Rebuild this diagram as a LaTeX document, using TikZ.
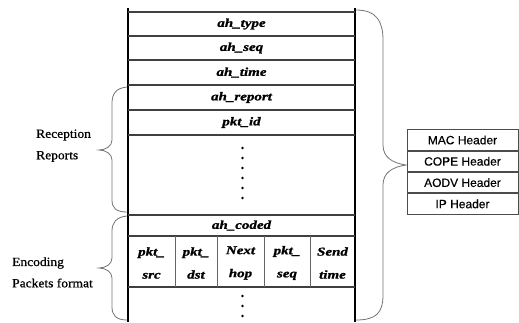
\documentclass[tikz,border=0pt]{standalone}
\usepackage{fontspec}
\setmainfont{Liberation Serif}
\newfontfamily\cellfont[FakeStretch=1.25,FakeBold=1.2]{Liberation Serif}
\newfontfamily\lblfont[FakeStretch=1.08,FakeBold=0.8]{Liberation Serif}
\newfontfamily\hdrfont[FakeBold=0.4]{Liberation Sans}
\begin{document}
\begin{tikzpicture}[x=1pt,y=-1pt,
  cell/.style={inner sep=0pt,font=\cellfont\fontsize{12}{14}\selectfont\bfseries\itshape},
  subcell/.style={inner sep=0pt,align=center,font=\cellfont\fontsize{12}{23}\selectfont\bfseries\itshape},
  lbl/.style={inner sep=0pt,anchor=west,font=\lblfont\fontsize{12.5}{14}\selectfont},
  hdr/.style={draw=black!70,line width=0.8pt,minimum width=111pt,minimum height=20.5pt,inner sep=0pt,font=\hdrfont\fontsize{12}{14}\selectfont},
  hl/.style={draw=black!75,line width=1.1pt},
  vl/.style={draw=black,line width=1.4pt},
  sl/.style={draw=black!60,line width=1pt},
  brace/.style={draw=black!55,line width=0.8pt},
  dotm/.style={circle,fill=black,inner sep=0pt,minimum size=2.6pt}]
\useasboundingbox (0,0) rectangle (519,322);
% table frame
\draw[vl] (128,8) -- (128,322);
\draw[vl] (355,8) -- (355,322);
\foreach \yy in {12,36,60,85,110,135,215,236,287}
  \draw[hl] (128,\yy) -- (355,\yy);
\foreach \xx in {175,217,264,310}
  \draw[sl] (\xx,236) -- (\xx,287);
% cells
\node[cell] (type) at (241.5,24) {ah\_type};
\node[cell] (seq) at (241.5,48) {ah\_seq};
\node[cell] (time) at (241.5,72.5) {ah\_time};
\node[cell] (report) at (241.5,97.5) {ah\_report};
\node[cell] (pktid) at (241.5,122.5) {pkt\_id};
\node[cell] (coded) at (241.5,225.5) {ah\_coded};
\node[subcell] (src) at (151.5,263) {pkt\_\\src};
\node[subcell] (dst) at (196,263) {pkt\_\\dst};
\node[subcell] (hop) at (240.5,263) {Next\\hop};
\node[subcell] (pseq) at (287,263) {pkt\_\\seq};
\node[subcell] (send) at (332.5,263) {Send\\time};
% dots
\foreach[count=\i] \yy in {148,158,168,178,188,198}
  \node[dotm] (d\i) at (242.5,\yy) {};
\foreach[count=\i] \yy in {296,306,316}
  \node[dotm] (e\i) at (242.5,\yy) {};
% header box
\node[hdr] (mac) at (462.5,140) {MAC Header};
\node[hdr,anchor=north] (cope) at (mac.south) {COPE Header};
\node[hdr,anchor=north] (aodv) at (cope.south) {AODV Header};
\node[hdr,anchor=north] (ip) at (aodv.south) {IP Header};
% labels
\node[lbl] (rec1) at (36,135) {Reception};
\node[lbl] (rec2) at (36,156.5) {Reports};
\node[lbl] (enc1) at (12,263) {Encoding};
\node[lbl] (enc2) at (12,283) {Packets format};
% right brace
\coordinate (rt) at (356,10);
\coordinate (rb) at (356,320);
\coordinate (rtip) at (406,165);
\draw[brace] (rt) .. controls (377,10) and (383,22) .. (383,40) -- (383,145)
  .. controls (383,157) and (392,163) .. (rtip)
  .. controls (392,167) and (383,173) .. (383,185) -- (383,295)
  .. controls (383,312) and (377,320) .. (rb);
% reception brace
\coordinate (at) at (127,87);
\coordinate (ab) at (127,212);
\coordinate (atip) at (99,150);
\draw[brace] (at) .. controls (116,88) and (112,94) .. (112,103) -- (112,140)
  .. controls (112,146) and (106,150) .. (atip)
  .. controls (106,150) and (112,154) .. (112,160) -- (112,200)
  .. controls (112,208) and (116,212) .. (ab);
% encoding brace
\coordinate (bt) at (127,216);
\coordinate (bb) at (127,320);
\coordinate (btip) at (99,268);
\draw[brace] (bt) .. controls (116,217) and (112,223) .. (112,231) -- (112,258)
  .. controls (112,264) and (106,268) .. (btip)
  .. controls (106,268) and (112,272) .. (112,278) -- (112,307)
  .. controls (112,315) and (116,320) .. (bb);
\end{tikzpicture}
\end{document}
